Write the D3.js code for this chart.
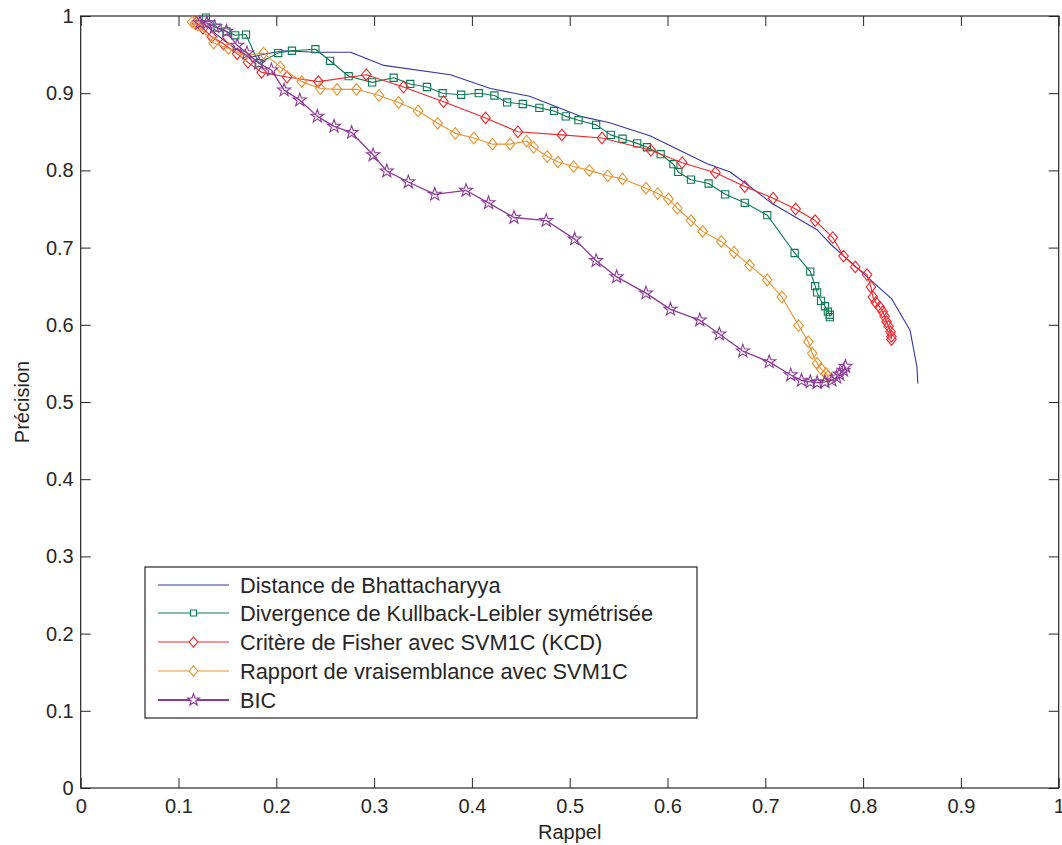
<!DOCTYPE html>
<html><head><meta charset="utf-8">
<script src="https://cdn.jsdelivr.net/npm/d3@7/dist/d3.min.js"></script>
<style>
body{margin:0;background:#fff;}
svg{display:block;font-family:"Liberation Sans",Arial,Helvetica,sans-serif;}
</style>
</head><body>
<svg id="chart" width="1062" height="845"></svg>
<script>
// ---------- data ----------
const xTickValues = [0,0.1,0.2,0.3,0.4,0.5,0.6,0.7,0.8,0.9,1];
const yTickValues = [0,0.1,0.2,0.3,0.4,0.5,0.6,0.7,0.8,0.9,1];
const xLabel = "Rappel";
const yLabel = "Précision";
const seriesNames = [
  "Distance de Bhattacharyya",
  "Divergence de Kullback-Leibler symétrisée",
  "Critère de Fisher avec SVM1C (KCD)",
  "Rapport de vraisemblance avec SVM1C",
  "BIC"
];
const bhattacharyya = [
  [0.122,0.995],[0.135,0.98],[0.15,0.965],[0.165,0.952],[0.175,0.947],[0.19,0.951],
  [0.207,0.955],[0.24,0.953],[0.276,0.953],[0.31,0.936],[0.378,0.924],[0.419,0.906],
  [0.459,0.896],[0.511,0.870],[0.54,0.862],[0.582,0.845],[0.64,0.809],[0.664,0.798],
  [0.678,0.785],[0.707,0.757],[0.753,0.723],[0.768,0.703],[0.829,0.634],[0.848,0.593],
  [0.855,0.546],[0.856,0.524]
];
const kullbackLeibler = [
  [0.128,0.998],[0.14,0.985],[0.149,0.980],[0.158,0.975],[0.169,0.976],[0.182,0.939],
  [0.202,0.952],[0.216,0.955],[0.240,0.957],[0.255,0.942],[0.274,0.922],[0.298,0.914],
  [0.320,0.920],[0.337,0.912],[0.354,0.908],[0.370,0.900],[0.389,0.898],[0.407,0.900],
  [0.423,0.897],[0.436,0.888],[0.452,0.886],[0.469,0.881],[0.484,0.877],[0.496,0.870],
  [0.509,0.865],[0.527,0.859],[0.542,0.846],[0.554,0.841],[0.569,0.835],[0.579,0.830],
  [0.593,0.821],[0.606,0.808],[0.611,0.798],[0.624,0.788],[0.642,0.783],[0.659,0.769],
  [0.679,0.758],[0.702,0.742],[0.730,0.693],[0.746,0.669],[0.751,0.650],[0.753,0.642],
  [0.757,0.631],[0.761,0.624],[0.764,0.617],[0.766,0.613],[0.766,0.610]
];
const fisherSVM = [
  [0.118,0.992],[0.125,0.984],[0.134,0.973],[0.146,0.964],[0.160,0.951],[0.171,0.940],
  [0.185,0.927],[0.211,0.921],[0.243,0.915],[0.292,0.924],[0.330,0.908],[0.371,0.889],
  [0.414,0.868],[0.447,0.850],[0.492,0.846],[0.533,0.842],[0.583,0.826],[0.615,0.810],
  [0.649,0.797],[0.679,0.779],[0.708,0.764],[0.731,0.750],[0.751,0.735],[0.769,0.713],
  [0.780,0.689],[0.792,0.675],[0.804,0.665],[0.808,0.649],[0.810,0.636],[0.813,0.629],
  [0.817,0.623],[0.820,0.617],[0.822,0.611],[0.824,0.604],[0.826,0.598],[0.828,0.591],
  [0.829,0.585],[0.829,0.581]
];
const likelihoodSVM = [
  [0.114,0.992],[0.117,0.990],[0.120,0.988],[0.136,0.965],[0.151,0.958],[0.168,0.949],
  [0.187,0.952],[0.204,0.934],[0.226,0.915],[0.245,0.906],[0.262,0.905],[0.282,0.905],
  [0.305,0.897],[0.325,0.888],[0.345,0.877],[0.365,0.861],[0.383,0.848],[0.402,0.842],
  [0.421,0.834],[0.439,0.834],[0.456,0.838],[0.463,0.830],[0.477,0.818],[0.488,0.811],
  [0.504,0.805],[0.520,0.800],[0.539,0.793],[0.554,0.789],[0.578,0.777],[0.590,0.770],
  [0.601,0.763],[0.610,0.751],[0.624,0.735],[0.636,0.721],[0.655,0.708],[0.668,0.694],
  [0.684,0.677],[0.702,0.658],[0.717,0.636],[0.734,0.599],[0.744,0.578],[0.748,0.563],
  [0.753,0.550],[0.757,0.543],[0.762,0.537],[0.764,0.533]
];
const bic = [
  [0.122,0.991],[0.129,0.991],[0.137,0.986],[0.149,0.980],[0.160,0.962],[0.170,0.952],
  [0.182,0.939],[0.195,0.930],[0.208,0.904],[0.224,0.891],[0.242,0.870],[0.259,0.857],
  [0.277,0.849],[0.299,0.820],[0.313,0.799],[0.335,0.785],[0.362,0.769],[0.394,0.774],
  [0.417,0.758],[0.443,0.739],[0.476,0.735],[0.505,0.711],[0.527,0.683],[0.548,0.662],
  [0.578,0.641],[0.603,0.620],[0.633,0.606],[0.653,0.588],[0.677,0.566],[0.704,0.552],
  [0.726,0.535],[0.737,0.528],[0.746,0.526],[0.753,0.525],[0.761,0.526],[0.768,0.528],
  [0.773,0.532],[0.776,0.536],[0.780,0.541],[0.782,0.546]
];

// ---------- styles ----------
const seriesData = [bhattacharyya, kullbackLeibler, fisherSVM, likelihoodSVM, bic];
const colors = ["#3434a6", "#0b7a52", "#f2262b", "#e8942e", "#8c3a97"];
const markers = ["none", "square", "diamond", "diamond", "star"];
const textColor = "#262626";

const svg = d3.select("#chart");
const x = d3.scaleLinear().domain([0,1]).range([80.7,1058.7]);
const y = d3.scaleLinear().domain([0,1]).range([788,16]);
const fmt = d => d3.format("~g")(d);

function markerPath(type, s) {
  if (type === "square") {
    const h = 3.6*s; return `M${-h},${-h}H${h}V${h}H${-h}Z`;
  }
  if (type === "diamond") {
    const w = 4.8*s, h = 5.8*s; return `M0,${-h}L${w},0L0,${h}L${-w},0Z`;
  }
  if (type === "star") {
    const R = 6.9*s, r = R*0.4; let p = "";
    for (let i=0;i<10;i++){
      const a = -Math.PI/2 + i*Math.PI/5; const rr = i%2===0?R:r;
      p += (i===0?"M":"L") + (rr*Math.cos(a)).toFixed(2) + "," + (rr*Math.sin(a)).toFixed(2);
    }
    return p + "Z";
  }
  return "";
}

// ---------- axes ----------
const gx = svg.append("g").attr("transform","translate(0,788)")
  .call(d3.axisBottom(x).tickValues(xTickValues).tickFormat(fmt).tickSizeInner(-10).tickSizeOuter(0).tickPadding(11));
const gxt = svg.append("g").attr("transform","translate(0,16)")
  .call(d3.axisTop(x).tickValues(xTickValues).tickFormat("").tickSizeInner(-10).tickSizeOuter(0));
const gy = svg.append("g").attr("transform","translate(80.7,0)")
  .call(d3.axisLeft(y).tickValues(yTickValues).tickFormat(fmt).tickSizeInner(-10).tickSizeOuter(0).tickPadding(7));
const gyr = svg.append("g").attr("transform","translate(1058.7,0)")
  .call(d3.axisRight(y).tickValues(yTickValues).tickFormat("").tickSizeInner(-10).tickSizeOuter(0));
[gx,gxt,gy,gyr].forEach(g=>{
  g.select(".domain").remove();
  g.selectAll("line").attr("stroke",textColor).attr("stroke-width",1);
  g.selectAll("text").attr("fill",textColor).style("font-size","20px")
    .style("font-family",'"Liberation Sans",Arial,Helvetica,sans-serif');
});
svg.append("rect").attr("x",x(0)).attr("y",y(1)).attr("width",x(1)-x(0)).attr("height",y(0)-y(1))
  .attr("fill","none").attr("stroke",textColor).attr("stroke-width",1.2);

svg.append("text").attr("x",(x(0)+x(1))/2).attr("y",839).attr("text-anchor","middle")
  .attr("fill",textColor).style("font-size","20px").text(xLabel);
svg.append("text").attr("transform",`translate(29,${(y(0)+y(1))/2}) rotate(-90)`).attr("text-anchor","middle")
  .attr("fill",textColor).style("font-size","20px").text(yLabel);

// ---------- series ----------
const line = d3.line().x(d=>x(d[0])).y(d=>y(d[1]));
const plot = svg.append("g");
seriesData.forEach((data,i)=>{
  plot.append("path").datum(data).attr("d",line).attr("fill","none")
    .attr("stroke",colors[i]).attr("stroke-width", i===4?1.3:1.1).attr("stroke-linejoin","round");
  if (markers[i] !== "none") {
    plot.selectAll(null).data(data).enter().append("path")
      .attr("transform",d=>`translate(${x(d[0])},${y(d[1])})`)
      .attr("d",markerPath(markers[i],1)).attr("fill","none")
      .attr("stroke",colors[i]).attr("stroke-width",1.1);
  }
});

// ---------- legend ----------
const lg = svg.append("g");
lg.append("rect").attr("x",145).attr("y",567).attr("width",552).attr("height",151)
  .attr("fill","#fff").attr("stroke",textColor).attr("stroke-width",1.2);
const rowY = [585,613,642,671,700];
seriesNames.forEach((name,i)=>{
  lg.append("line").attr("x1",158).attr("x2",229).attr("y1",rowY[i]).attr("y2",rowY[i])
    .attr("stroke",colors[i]).attr("stroke-width", i===4?1.8:1.1);
  if (markers[i] !== "none") {
    lg.append("path").attr("transform",`translate(193.5,${rowY[i]})`)
      .attr("d",markerPath(markers[i], markers[i]==="square"?0.85:0.9)).attr("fill","#fff")
      .attr("stroke",colors[i]).attr("stroke-width",1.1);
  }
  lg.append("text").attr("x",240).attr("y",rowY[i]).attr("dy","0.35em")
    .attr("fill",textColor).style("font-size","21.8px").text(name);
});
</script>
</body></html>
